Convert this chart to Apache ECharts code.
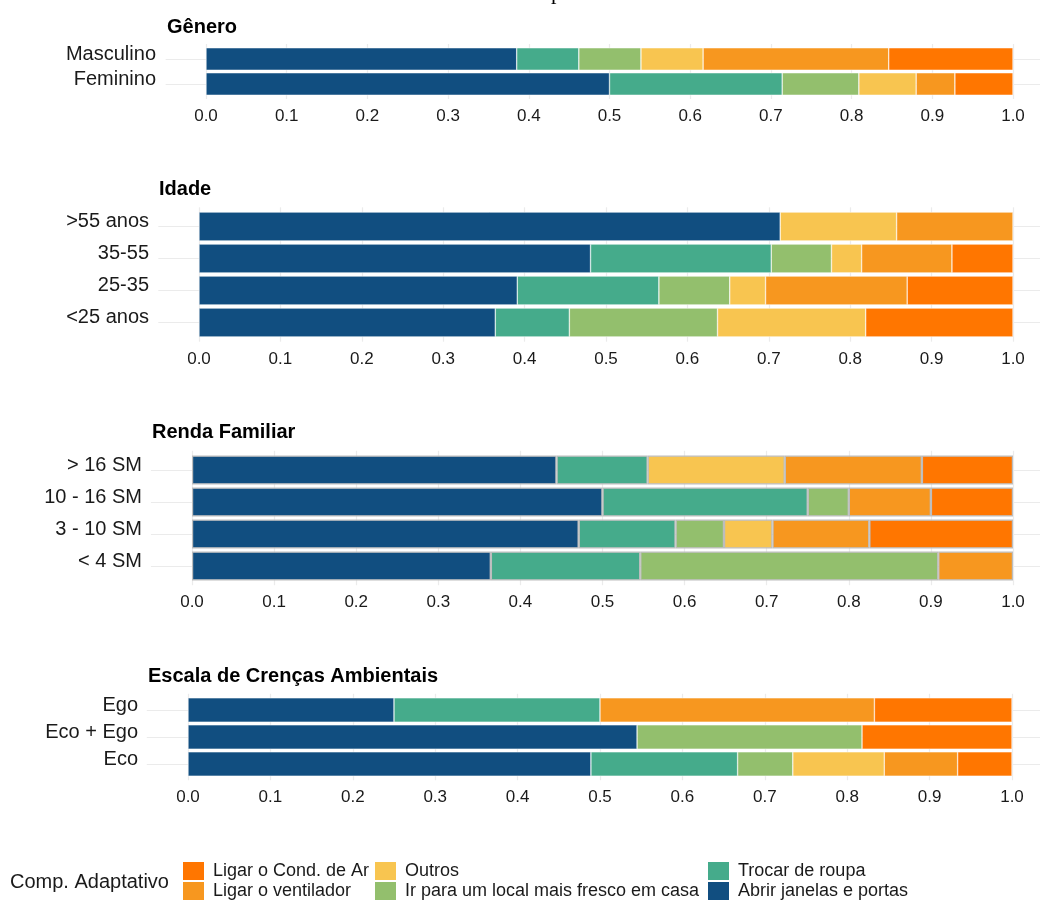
<!DOCTYPE html>
<html><head><meta charset="utf-8">
<script src="https://cdn.jsdelivr.net/npm/echarts@6/dist/echarts.min.js"></script>
<style>html,body{margin:0;padding:0;background:#fff}#c{width:1040px;height:901px}</style>
</head><body><div id="c"></div>
<script>
// ---- data ----
const seriesNames = ['Abrir janelas e portas','Trocar de roupa','Ir para um local mais fresco em casa','Outros','Ligar o ventilador','Ligar o Cond. de Ar'];
const seriesColors = ['#114E80','#45AB8B','#93BF6D','#F8C550','#F7971F','#FF7600'];
const xTickValues = [0,0.1,0.2,0.3,0.4,0.5,0.6,0.7,0.8,0.9,1.0];

const panelTitles = ['Gênero','Idade','Renda Familiar','Escala de Crenças Ambientais'];

const generoCats = ['Masculino','Feminino'];
const generoValues = [
  [0.385,0.077,0.077,0.077,0.230,0.154],
  [0.500,0.214,0.095,0.071,0.048,0.072]
];
const idadeCats = ['>55 anos','35-55','25-35','<25 anos'];
const idadeValues = [
  [0.714,0,0,0.143,0.143,0],
  [0.481,0.222,0.074,0.037,0.111,0.075],
  [0.391,0.174,0.087,0.044,0.174,0.130],
  [0.364,0.091,0.182,0.182,0,0.181]
];
const rendaCats = ['> 16 SM','10 - 16 SM','3 - 10 SM','< 4 SM'];
const rendaValues = [
  [0.444,0.111,0,0.167,0.167,0.111],
  [0.500,0.250,0.050,0,0.100,0.100],
  [0.471,0.118,0.059,0.059,0.118,0.175],
  [0.364,0.182,0.363,0,0.091,0]
];
const escalaCats = ['Ego','Eco + Ego','Eco'];
const escalaValues = [
  [0.250,0.250,0,0,0.333,0.167],
  [0.545,0,0.273,0,0,0.182],
  [0.489,0.178,0.067,0.111,0.089,0.066]
];
const legendColumns = [
  ['Ligar o Cond. de Ar','Ligar o ventilador'],
  ['Outros','Ir para um local mais fresco em casa'],
  ['Trocar de roupa','Abrir janelas e portas']
];

// ---- layout (positions / styles) ----
const layout = [
  {titleX:167, titleY:26.5, zeroX:206, oneX:1013, firstCenter:59, pitch:25, border:'#ffffff', bw:0.5},
  {titleX:159, titleY:188.5, zeroX:199, oneX:1013, firstCenter:226.5, pitch:32, border:'#ffffff', bw:0.5},
  {titleX:152, titleY:431.5, zeroX:192, oneX:1013, firstCenter:470, pitch:32, border:'#BDBDBD', bw:1.2},
  {titleX:148, titleY:675.5, zeroX:188, oneX:1012, firstCenter:710, pitch:27, border:'#ffffff', bw:0.5}
];
const panelCats = [generoCats, idadeCats, rendaCats, escalaCats];
const panelValues = [generoValues, idadeValues, rendaValues, escalaValues];

const FONT = "'Liberation Sans', Arial, Helvetica, sans-serif";
const GRID_COLOR = '#EBEBEB';
const W = 1040;

const grids = [], xAxes = [], yAxes = [], series = [], graphics = [];
let gi = 0;
layout.forEach((L, i) => {
  const cats = panelCats[i], vals = panelValues[i], n = cats.length;
  const span = L.oneX - L.zeroX;
  // grid A: horizontal grid lines at category centres across whole panel
  grids.push({left: L.zeroX - 0.05*span, right: 0, top: L.firstCenter - L.pitch, height: (n+1)*L.pitch, containLabel:false});
  xAxes.push({gridIndex: gi, type:'value', show:false});
  yAxes.push({gridIndex: gi, type:'category', data:[''].concat(cats).concat(['']), boundaryGap:false, inverse:true,
    axisLine:{show:false}, axisTick:{show:false}, axisLabel:{show:false},
    splitLine:{show:true, interval:(idx)=> idx>0 && idx<=n, lineStyle:{color:GRID_COLOR, width:1.2}}});
  gi++;
  // grid C: vertical grid lines + x tick labels
  grids.push({left: L.zeroX, right: W - L.oneX, top: L.firstCenter - 0.6*L.pitch, height: (n-1)*L.pitch + 1.2*L.pitch});
  xAxes.push({gridIndex: gi, type:'value', min:xTickValues[0], max:xTickValues[xTickValues.length-1], interval:0.1,
    axisLine:{show:false}, axisTick:{show:false},
    splitLine:{show:true, lineStyle:{color:GRID_COLOR, width:1.2}},
    axisLabel:{margin:9, fontSize:17, fontFamily:FONT, color:'#1a1a1a', formatter:(v)=>v.toFixed(1)}});
  yAxes.push({gridIndex: gi, type:'value', show:false});
  gi++;
  // grid B: bars
  grids.push({left: L.zeroX, right: W - L.oneX, top: L.firstCenter - 0.5*L.pitch, height: n*L.pitch});
  xAxes.push({gridIndex: gi, type:'value', min:0, max:1, show:false});
  yAxes.push({gridIndex: gi, type:'category', data:cats, inverse:true,
    axisLine:{show:false}, axisTick:{show:false}, splitLine:{show:false},
    axisLabel:{interval:0, margin:50, fontSize:20, fontFamily:FONT, color:'#1a1a1a', verticalAlign:'bottom', lineHeight:10}});
  seriesNames.forEach((name, s) => {
    series.push({type:'bar', name:name, xAxisIndex:gi, yAxisIndex:gi, stack:'p'+i, barWidth:'90%',
      data: vals.map(r => r[s] === 0 ? null : r[s]),
      itemStyle:{color:seriesColors[s], borderColor:L.border, borderWidth:L.bw},
      emphasis:{disabled:true}, silent:true});
  });
  gi++;
  graphics.push({type:'text', left:L.titleX, top:L.titleY - 9.5,
    style:{text:panelTitles[i], font:"bold 20px " + FONT, fill:'#000'}});
});

graphics.push({type:'text', left:10, top:872, style:{text:'Comp. Adaptativo', font:"20px " + FONT, fill:'#1a1a1a'}});
graphics.push({type:'text', left:551, top:-18, style:{text:'p', font:"22px 'Liberation Serif', 'Times New Roman', serif", fill:'#000'}});

const legendLefts = [183, 375, 708];
const legends = legendColumns.map((col, k) => ({
  orient:'vertical', left:legendLefts[k], top:862, data:col, icon:'rect', itemWidth:21, itemHeight:18, itemGap:2,
  padding:0, selectedMode:false, itemStyle:{borderWidth:0},
  textStyle:{fontSize:18, fontFamily:FONT, color:'#1a1a1a', padding:[0,0,0,4]}
}));

const chart = echarts.init(document.getElementById('c'), null, {renderer:'canvas'});
chart.setOption({
  animation:false,
  backgroundColor:'#ffffff',
  grid:grids, xAxis:xAxes, yAxis:yAxes, series:series, legend:legends, graphic:graphics
});
</script></body></html>
